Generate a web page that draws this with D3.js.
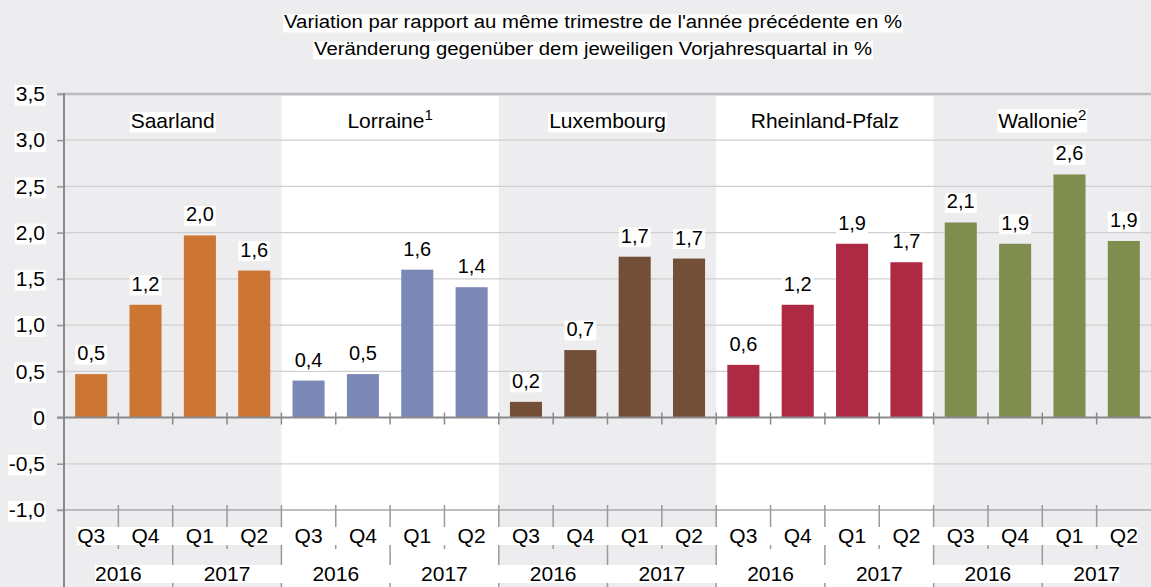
<!DOCTYPE html>
<html>
<head>
<meta charset="utf-8">
<script src="https://cdn.jsdelivr.net/npm/d3@7"></script>
<style>
  body { margin: 0; background: #ededef; }
  text { font-family: "Liberation Sans", Arial, sans-serif; fill: #000; }
</style>
</head>
<body>
<div id="chart"></div>
<script>
// data
const regions = ["Saarland", "Lorraine", "Luxembourg", "Rheinland-Pfalz", "Wallonie"];
const footnotes = ["", "1", "", "", "2"];
const quarters = ["Q3", "Q4", "Q1", "Q2"];
const years = ["2016", "2017"];
const saarland = [0.47, 1.22, 1.97, 1.59];
const lorraine = [0.40, 0.47, 1.60, 1.41];
const luxembourg = [0.17, 0.73, 1.74, 1.72];
const rheinlandPfalz = [0.57, 1.22, 1.88, 1.68];
const wallonie = [2.11, 1.88, 2.63, 1.91];
const yTicks = [-1, -0.5, 0, 0.5, 1, 1.5, 2, 2.5, 3, 3.5];
const titleLines = ["Variation par rapport au même trimestre de l'année précédente en %",
                    "Veränderung gegenüber dem jeweiligen Vorjahresquartal in %"];

const colors = ["#cd7532", "#7c88b6", "#734f38", "#ae2944", "#7f8e4f"];
const series = [saarland, lorraine, luxembourg, rheinlandPfalz, wallonie];

const width = 1151, height = 587;
const margin = {top: 94, right: 0, bottom: 77, left: 64};

// flatten to one record per bar
let dataset = [];
regions.forEach((r, i) => {
  quarters.forEach((q, j) => {
    dataset.push({key: r + "-" + q, region: i, q: q, value: series[i][j]});
  });
});

const fmt = d3.formatLocale({decimal: ",", thousands: ".", grouping: [3], currency: ["", ""], minus: "-"}).format(".1f");

const svg = d3.select("#chart").append("svg")
  .attr("width", width)
  .attr("height", height);

svg.append("rect").attr("width", width).attr("height", height).attr("fill", "#ededef");

const x = d3.scaleBand()
  .domain(dataset.map(d => d.key))
  .range([margin.left, width - margin.right])
  .paddingInner(0.41)
  .paddingOuter(0.205);

const y = d3.scaleLinear()
  .domain([-1, 3.5])
  .range([height - margin.bottom, margin.top]);

// left edge of category k (k = 0..20)
function edge(k) {
  if (k >= dataset.length) return x.range()[1];
  return x(dataset[k].key) - (x.step() - x.bandwidth()) / 2;
}

// white box behind a text node
function whiteBox(node, padX) {
  const b = node.getBBox();
  d3.select(node.parentNode).insert("rect", () => node)
    .attr("x", b.x - padX).attr("y", b.y + b.height * 0.12)
    .attr("width", b.width + 2 * padX).attr("height", b.height * 0.9)
    .attr("fill", "#fff");
}

// white bands for every other region
regions.forEach((r, i) => {
  if (i % 2 === 1) {
    svg.append("rect")
      .attr("x", edge(i * 4)).attr("y", y(3.5) + 2)
      .attr("width", edge(i * 4 + 4) - edge(i * 4))
      .attr("height", height - y(3.5) - 2)
      .attr("fill", "#fff");
  }
});

// gridlines
svg.append("g").selectAll("line")
  .data(yTicks.filter(t => t !== 0 && t !== 3.5 && t !== -1))
  .enter().append("line")
  .attr("x1", margin.left - 7).attr("x2", width)
  .attr("y1", d => y(d)).attr("y2", d => y(d))
  .attr("stroke", "#cfcfd1").attr("stroke-width", 1.2);

svg.append("line").attr("x1", margin.left - 7).attr("x2", width)
  .attr("y1", y(3.5)).attr("y2", y(3.5))
  .attr("stroke", "#bdbdbf").attr("stroke-width", 2.5);

svg.append("line").attr("x1", margin.left - 7).attr("x2", width)
  .attr("y1", y(-1)).attr("y2", y(-1))
  .attr("stroke", "#a9a9ab").attr("stroke-width", 1.5);

// bars
svg.append("g").selectAll("rect")
  .data(dataset)
  .enter().append("rect")
  .attr("x", d => x(d.key))
  .attr("y", d => y(d.value))
  .attr("width", x.bandwidth())
  .attr("height", d => y(0) - y(d.value))
  .attr("fill", d => colors[d.region]);

// zero line and its ticks
svg.append("line").attr("x1", margin.left - 7).attr("x2", width)
  .attr("y1", y(0)).attr("y2", y(0))
  .attr("stroke", "#8a8a8c").attr("stroke-width", 2);

const bounds = d3.range(1, dataset.length);
svg.append("g").selectAll("line")
  .data(bounds)
  .enter().append("line")
  .attr("x1", k => edge(k)).attr("x2", k => edge(k))
  .attr("y1", y(0) - 5).attr("y2", y(0) + 7)
  .attr("stroke", "#8a8a8c").attr("stroke-width", 1.5);

// ticks in the label area
svg.append("g").selectAll("line")
  .data(bounds)
  .enter().append("line")
  .attr("x1", k => edge(k)).attr("x2", k => edge(k))
  .attr("y1", y(-1) - 5)
  .attr("y2", k => k % 2 === 0 ? height : y(-1) + 39)
  .attr("stroke", "#9a9a9c").attr("stroke-width", 1.5);

// value labels
const vl = svg.append("g").selectAll("text")
  .data(dataset)
  .enter().append("text")
  .attr("x", d => x(d.key) + x.bandwidth() / 2)
  .attr("y", d => y(d.value) - 14)
  .attr("text-anchor", "middle")
  .style("font-size", "20px")
  .text(d => fmt(d.value));
vl.each(function () { whiteBox(this, 2); });

// region labels
regions.forEach((r, i) => {
  const t = svg.append("text")
    .attr("x", (edge(i * 4) + edge(i * 4 + 4)) / 2)
    .attr("y", 128)
    .attr("text-anchor", "middle")
    .style("font-size", "21px");
  t.append("tspan").text(r);
  if (footnotes[i]) {
    t.append("tspan").attr("dy", -8).style("font-size", "15px").text(footnotes[i]);
  }
  whiteBox(t.node(), 1);
});

// y axis
const yAxis = svg.append("g")
  .attr("transform", `translate(${margin.left},0)`)
  .call(d3.axisLeft(y).tickValues(yTicks).tickSize(7).tickPadding(12)
    .tickFormat(d => d === 0 ? "0" : fmt(d)));
yAxis.select(".domain").remove();
yAxis.attr("font-family", null).attr("font-size", null);
yAxis.selectAll(".tick line").attr("stroke", "#9a9a9c").attr("stroke-width", 1.5);
yAxis.selectAll(".tick text")
  .style("font-size", "21px")
  .each(function () { whiteBox(this, 1); });

svg.append("line").attr("x1", margin.left).attr("x2", margin.left)
  .attr("y1", y(3.5) - 1).attr("y2", height)
  .attr("stroke", "#8a8a8c").attr("stroke-width", 2);

// quarter labels
const ql = svg.append("g");
const qStrip = ql.append("rect").attr("fill", "#fff");
const qText = ql.selectAll("text")
  .data(dataset)
  .enter().append("text")
  .attr("x", d => x(d.key) + x.bandwidth() / 2)
  .attr("y", 543)
  .attr("text-anchor", "middle")
  .style("font-size", "21px")
  .text(d => d.q);
const qb = qText.nodes().map(n => n.getBBox());
qStrip.attr("x", d3.min(qb, b => b.x)).attr("width", d3.max(qb, b => b.x + b.width) - d3.min(qb, b => b.x))
  .attr("y", 527).attr("height", 18);

// year labels
const yearData = [];
regions.forEach((r, i) => {
  years.forEach((yr, j) => yearData.push({yr: yr, k: i * 4 + j * 2}));
});
const yl = svg.append("g");
const yStrip = yl.append("rect").attr("fill", "#fff");
const yText = yl.selectAll("text")
  .data(yearData)
  .enter().append("text")
  .attr("x", d => edge(d.k + 1))
  .attr("y", 581)
  .attr("text-anchor", "middle")
  .style("font-size", "21px")
  .text(d => d.yr);
const yb = yText.nodes().map(n => n.getBBox());
yStrip.attr("x", d3.min(yb, b => b.x)).attr("width", d3.max(yb, b => b.x + b.width) - d3.min(yb, b => b.x))
  .attr("y", 565).attr("height", 18);

// title
const titleW = [618, 558];
titleLines.forEach((line, i) => {
  const t = svg.append("text")
    .attr("x", 593)
    .attr("y", 28 + i * 27)
    .attr("text-anchor", "middle")
    .attr("textLength", titleW[i])
    .attr("lengthAdjust", "spacingAndGlyphs")
    .style("font-family", "'Liberation Sans Narrow', 'Arial Narrow', 'Liberation Sans', sans-serif")
    .style("font-size", "18px")
    .text(line);
  whiteBox(t.node(), 1);
});
</script>
</body>
</html>
